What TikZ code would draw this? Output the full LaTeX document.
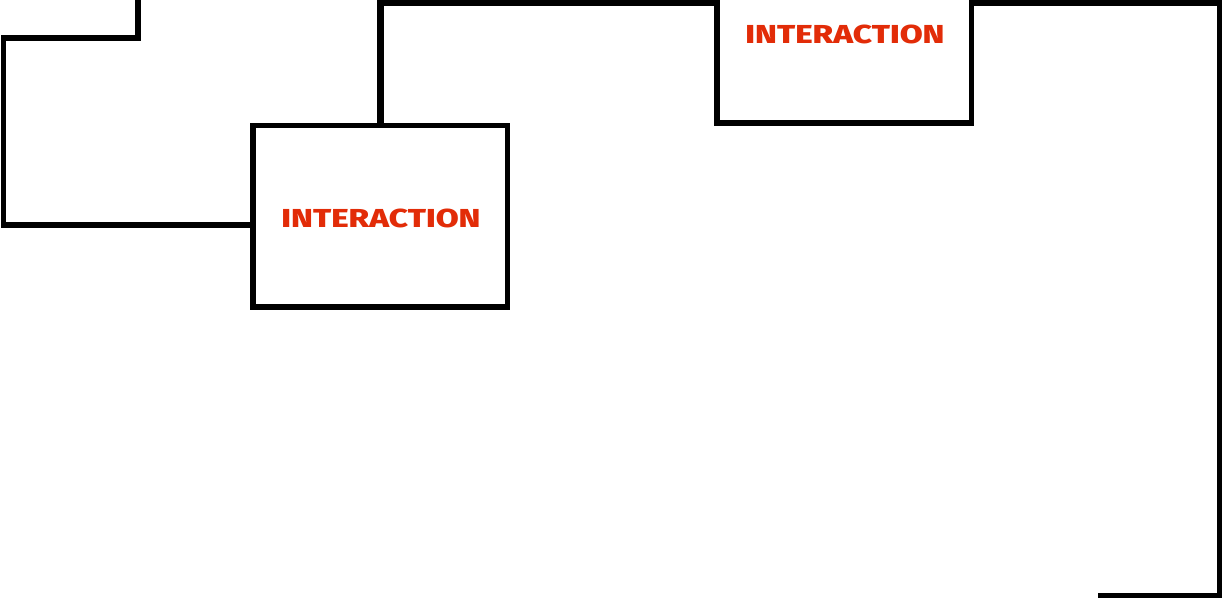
\documentclass[tikz,border=0pt]{standalone}
\usepackage{fontspec}
\newfontfamily\labelfont{Fira Sans}[UprightFont=* ExtraBold]
\definecolor{labelred}{RGB}{226,44,8}
\begin{document}
\begin{tikzpicture}[x=1pt,y=-1pt,
  wire/.style={draw=black,line width=5.5pt},
  boxnode/.style={draw=black,line width=5.5pt,fill=white,minimum width=254.5pt,minimum height=181.5pt,inner sep=0pt},
  lbl/.style={text=labelred,font=\labelfont\fontsize{26}{26}\selectfont,xscale=1.28,inner sep=0pt}]
\useasboundingbox (0,0) rectangle (1222,597);
\clip (0,0) rectangle (1222,597);
\fill[white] (0,0) rectangle (1222,597);
% boxes
\node[boxnode] (box1) at (380.25,216.25) {};
\node[boxnode] (box2) at (844,32.25) {};
\node[lbl] (t1) at (381,218.5) {INTERACTION};
\node[lbl] (t2) at (845,34.5) {INTERACTION};
% free ends and bends
\coordinate (s1) at (138,-5);
\coordinate (b1) at (138,38);
\coordinate (b2) at (3.5,38);
\coordinate (b3) at (3.5,225);
\coordinate (toprow) at (0,3);
\coordinate (b4) at (1219.5,3);
\coordinate (b5) at (1219.5,596);
\coordinate (e1) at (1098,596);
% connectors
\draw[wire] (s1) -- (b1) -- (b2) -- (b3) -- (b3 -| box1.west);
\draw[wire,line width=6.5pt] (box1.north) -- (box1.north |- toprow) -- (toprow -| box2.west);
\draw[wire] (toprow -| box2.east) -- (b4) -- (b5) -- (e1);
\end{tikzpicture}
\end{document}
